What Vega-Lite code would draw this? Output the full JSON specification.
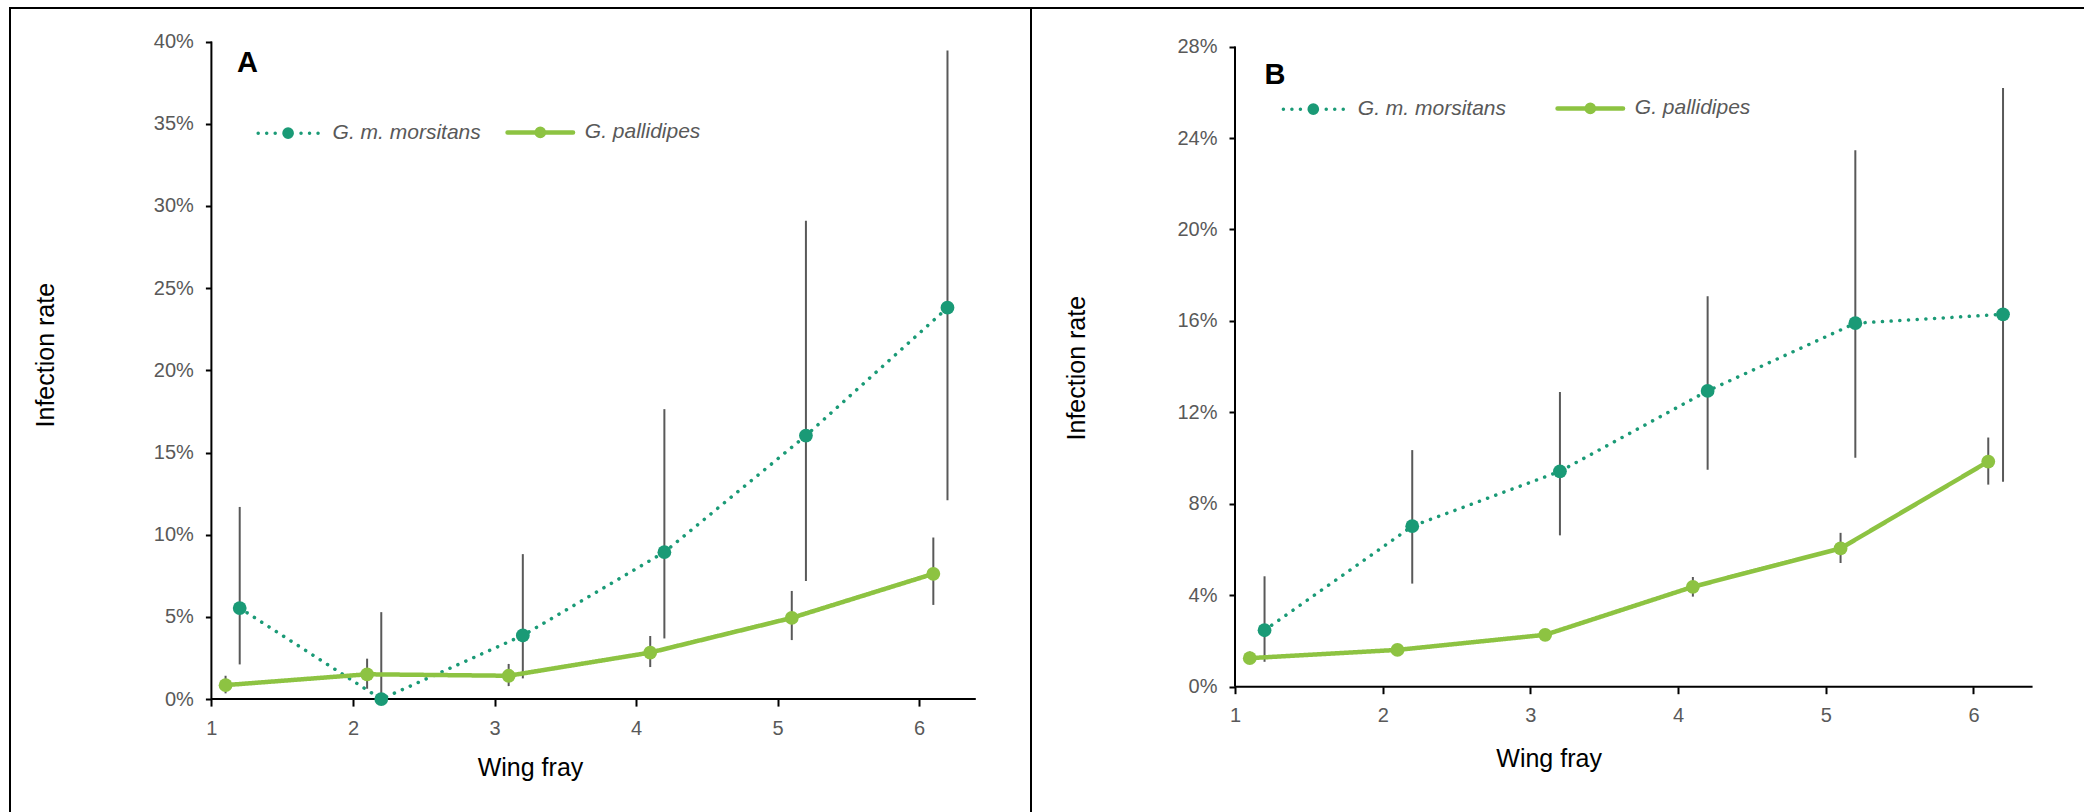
{
  "$schema": "https://vega.github.io/schema/vega-lite/v6.json",
  "padding": {"left": 9, "top": 7, "right": 0, "bottom": 0},
  "background": "white",
  "spacing": 0,
  "bounds": "flush",
  "config": {
    "view": {"stroke": "black", "strokeWidth": 2},
    "font": "Liberation Sans",
    "axis": {
      "domain": false, "grid": false, "tickColor": "black", "tickWidth": 2,
      "labelColor": "#595959", "labelFontSize": 20, "labelFont": "Liberation Sans",
      "titleFont": "Liberation Sans", "titleFontSize": 25, "titleFontWeight": "normal",
      "titleColor": "black", "labelOverlap": false, "labelFlush": false, "titleBaseline": "alphabetic"
    },
    "legend": {
      "title": null, "orient": "none", "direction": "horizontal", "padding": 0,
      "symbolType": "M-1,0L1,0M-0.2,0A0.2,0.2,0,1,0,0.2,0A0.2,0.2,0,1,0,-0.2,0Z",
      "symbolSize": 3969, "labelFont": "Liberation Sans", "labelFontSize": 21,
      "labelFontStyle": "italic", "labelColor": "#595959", "labelOffset": 34, "labelLimit": 400
    }
  },
  "datasets": {
    "rates": [
      {"panel": "A", "species": "G. m. morsitans", "wing_fray": 1.2, "rate": 0.0554, "lo": 0.0211, "hi": 0.1169},
      {"panel": "A", "species": "G. m. morsitans", "wing_fray": 2.2, "rate": 0.0, "lo": 0.0, "hi": 0.0529},
      {"panel": "A", "species": "G. m. morsitans", "wing_fray": 3.2, "rate": 0.0387, "lo": 0.0126, "hi": 0.0882},
      {"panel": "A", "species": "G. m. morsitans", "wing_fray": 4.2, "rate": 0.0894, "lo": 0.0369, "hi": 0.1764},
      {"panel": "A", "species": "G. m. morsitans", "wing_fray": 5.2, "rate": 0.1603, "lo": 0.0718, "hi": 0.291},
      {"panel": "A", "species": "G. m. morsitans", "wing_fray": 6.2, "rate": 0.2381, "lo": 0.1209, "hi": 0.3946},
      {"panel": "A", "species": "G. pallidipes", "wing_fray": 1.1, "rate": 0.0085, "lo": 0.0035, "hi": 0.0142},
      {"panel": "A", "species": "G. pallidipes", "wing_fray": 2.1, "rate": 0.0151, "lo": 0.0063, "hi": 0.0246},
      {"panel": "A", "species": "G. pallidipes", "wing_fray": 3.1, "rate": 0.0142, "lo": 0.0079, "hi": 0.0214},
      {"panel": "A", "species": "G. pallidipes", "wing_fray": 4.1, "rate": 0.0283, "lo": 0.0195, "hi": 0.0384},
      {"panel": "A", "species": "G. pallidipes", "wing_fray": 5.1, "rate": 0.0494, "lo": 0.0359, "hi": 0.0658},
      {"panel": "A", "species": "G. pallidipes", "wing_fray": 6.1, "rate": 0.0762, "lo": 0.0573, "hi": 0.0983},
      {"panel": "B", "species": "G. m. morsitans", "wing_fray": 1.2, "rate": 0.0247, "lo": 0.0109, "hi": 0.0483},
      {"panel": "B", "species": "G. m. morsitans", "wing_fray": 2.2, "rate": 0.0702, "lo": 0.0451, "hi": 0.1035},
      {"panel": "B", "species": "G. m. morsitans", "wing_fray": 3.2, "rate": 0.0942, "lo": 0.0662, "hi": 0.1289},
      {"panel": "B", "species": "G. m. morsitans", "wing_fray": 4.2, "rate": 0.1294, "lo": 0.0949, "hi": 0.1708},
      {"panel": "B", "species": "G. m. morsitans", "wing_fray": 5.2, "rate": 0.159, "lo": 0.1001, "hi": 0.2347},
      {"panel": "B", "species": "G. m. morsitans", "wing_fray": 6.2, "rate": 0.1629, "lo": 0.0897, "hi": 0.2619},
      {"panel": "B", "species": "G. pallidipes", "wing_fray": 1.1, "rate": 0.0125, "lo": 0.010, "hi": 0.0154},
      {"panel": "B", "species": "G. pallidipes", "wing_fray": 2.1, "rate": 0.0161, "lo": 0.0146, "hi": 0.0176},
      {"panel": "B", "species": "G. pallidipes", "wing_fray": 3.1, "rate": 0.0227, "lo": 0.021, "hi": 0.0244},
      {"panel": "B", "species": "G. pallidipes", "wing_fray": 4.1, "rate": 0.0437, "lo": 0.0394, "hi": 0.048},
      {"panel": "B", "species": "G. pallidipes", "wing_fray": 5.1, "rate": 0.0605, "lo": 0.0541, "hi": 0.0673},
      {"panel": "B", "species": "G. pallidipes", "wing_fray": 6.1, "rate": 0.0985, "lo": 0.0884, "hi": 0.109}
    ]
  },
  "resolve": {"legend": {"color": "independent"}},
  "hconcat": [
    {
      "width": 1021, "height": 806,
      "layer": [
        {
          "data": {"values": [{}]},
          "mark": {"type": "rule", "color": "black", "strokeWidth": 2},
          "encoding": {"x": {"datum": 1}, "x2": {"datum": 6.4}, "y": {"datum": 0}}
        },
        {
          "data": {"values": [{}]},
          "mark": {"type": "rule", "color": "black", "strokeWidth": 2},
          "encoding": {"x": {"datum": 1}, "y": {"datum": 0}, "y2": {"datum": 0.4}}
        },
        {
          "data": {"name": "rates"},
          "transform": [{"filter": "datum.panel === 'A'"}],
          "mark": {"type": "rule", "color": "#595959", "strokeWidth": 2},
          "encoding": {
            "x": {"field": "wing_fray", "type": "quantitative",
              "scale": {"domain": [-0.4228, 6.79], "nice": false, "zero": false},
              "axis": {"values": [1, 2, 3, 4, 5, 6], "format": "d", "offset": -114.9, "tickSize": 7, "labelPadding": 12,
                "title": "Wing fray", "titleX": 520, "titleY": 75.9}},
            "y": {"field": "lo", "type": "quantitative",
              "scale": {"domain": [-0.0699, 0.42044], "nice": false, "zero": false},
              "axis": {"values": [0, 0.05, 0.1, 0.15, 0.2, 0.25, 0.3, 0.35, 0.4], "format": ".0%", "offset": -201.4, "tickSize": 6, "labelPadding": 12,
                "title": "Infection rate", "titleX": -158.4, "titleY": 346.7}},
            "y2": {"field": "hi"}
          }
        },
        {
          "data": {"name": "rates"},
          "transform": [{"filter": "datum.panel === 'A'"}],
          "mark": {"type": "line", "strokeCap": "round", "strokeJoin": "round"},
          "encoding": {
            "x": {"field": "wing_fray", "type": "quantitative"},
            "y": {"field": "rate", "type": "quantitative"},
            "color": {"field": "species", "type": "nominal",
              "scale": {"domain": ["G. m. morsitans", "G. pallidipes"], "range": ["#1A9A76", "#8DC342"]},
              "legend": {"legendX": 267.6, "legendY": 113.5, "columnPadding": 16.2,
                "encode": {"symbols": {"update": {
                  "shape": {"signal": "datum.value === 'G. m. morsitans' ? 'M-0.95,0L-0.949,0M-0.68,0L-0.679,0M-0.41,0L-0.409,0M0.41,0L0.411,0M0.68,0L0.681,0M0.95,0L0.951,0M-0.13,0A0.13,0.13,0,1,0,0.13,0A0.13,0.13,0,1,0,-0.13,0Z' : 'M-1.04,0L1.04,0M-0.114,0A0.114,0.114,0,1,0,0.114,0A0.114,0.114,0,1,0,-0.114,0Z'"},
                  "fill": {"signal": "datum.value === 'G. m. morsitans' ? '#1A9A76' : '#8DC342'"},
                  "fillOpacity": {"value": 1},
                  "strokeCap": {"value": "round"},
                  "strokeDash": {"value": []},
                  "strokeWidth": {"signal": "datum.value === 'G. m. morsitans' ? 3.5 : 4.5"}
                }}}}},
            "strokeDash": {"field": "species", "type": "nominal",
              "scale": {"domain": ["G. m. morsitans", "G. pallidipes"], "range": [[0.1, 8.6], [1, 0]]}, "legend": null},
            "strokeWidth": {"field": "species", "type": "nominal",
              "scale": {"domain": ["G. m. morsitans", "G. pallidipes"], "range": [3.5, 4.5]}, "legend": null}
          }
        },
        {
          "data": {"name": "rates"},
          "transform": [{"filter": "datum.panel === 'A'"}],
          "mark": {"type": "point", "filled": true, "opacity": 1, "size": 190},
          "encoding": {
            "x": {"field": "wing_fray", "type": "quantitative"},
            "y": {"field": "rate", "type": "quantitative"},
            "color": {"field": "species", "type": "nominal"}
          }
        },
        {
          "data": {"values": [{"label": "A"}]},
          "mark": {"type": "text", "fontSize": 29, "fontWeight": "bold", "color": "black", "align": "left", "baseline": "alphabetic", "font": "Liberation Sans"},
          "encoding": {"x": {"datum": 1.181}, "y": {"datum": 0.3813}, "text": {"field": "label"}}
        }
      ]
    },
    {
      "width": 1054, "height": 806,
      "layer": [
        {
          "data": {"values": [{}]},
          "mark": {"type": "rule", "color": "black", "strokeWidth": 2},
          "encoding": {"x": {"datum": 1}, "x2": {"datum": 6.4}, "y": {"datum": 0}}
        },
        {
          "data": {"values": [{}]},
          "mark": {"type": "rule", "color": "black", "strokeWidth": 2},
          "encoding": {"x": {"datum": 1}, "y": {"datum": 0}, "y2": {"datum": 0.28}}
        },
        {
          "data": {"name": "rates"},
          "transform": [{"filter": "datum.panel === 'B'"}],
          "mark": {"type": "rule", "color": "#595959", "strokeWidth": 2},
          "encoding": {
            "x": {"field": "wing_fray", "type": "quantitative",
              "scale": {"domain": [-0.3812, 6.755], "nice": false, "zero": false},
              "axis": {"values": [1, 2, 3, 4, 5, 6], "format": "d", "offset": -127.3, "tickSize": 7, "labelPadding": 12,
                "title": "Wing fray", "titleX": 517.6, "titleY": 80}},
            "y": {"field": "lo", "type": "quantitative",
              "scale": {"domain": [-0.05568, 0.29688], "nice": false, "zero": false},
              "axis": {"values": [0, 0.04, 0.08, 0.12, 0.16, 0.2, 0.24, 0.28], "format": ".0%", "offset": -204, "tickSize": 6, "labelPadding": 12,
                "title": "Infection rate", "titleX": -151, "titleY": 359.7}},
            "y2": {"field": "hi"}
          }
        },
        {
          "data": {"name": "rates"},
          "transform": [{"filter": "datum.panel === 'B'"}],
          "mark": {"type": "line", "strokeCap": "round", "strokeJoin": "round"},
          "encoding": {
            "x": {"field": "wing_fray", "type": "quantitative"},
            "y": {"field": "rate", "type": "quantitative"},
            "color": {"field": "species", "type": "nominal",
              "legend": {"legendX": 271.8, "legendY": 89.5, "columnPadding": 41,
                "encode": {"symbols": {"update": {
                  "shape": {"signal": "datum.value === 'G. m. morsitans' ? 'M-0.95,0L-0.949,0M-0.68,0L-0.679,0M-0.41,0L-0.409,0M0.41,0L0.411,0M0.68,0L0.681,0M0.95,0L0.951,0M-0.13,0A0.13,0.13,0,1,0,0.13,0A0.13,0.13,0,1,0,-0.13,0Z' : 'M-1.04,0L1.04,0M-0.114,0A0.114,0.114,0,1,0,0.114,0A0.114,0.114,0,1,0,-0.114,0Z'"},
                  "fill": {"signal": "datum.value === 'G. m. morsitans' ? '#1A9A76' : '#8DC342'"},
                  "fillOpacity": {"value": 1},
                  "strokeCap": {"value": "round"},
                  "strokeDash": {"value": []},
                  "strokeWidth": {"signal": "datum.value === 'G. m. morsitans' ? 3.5 : 4.5"}
                }}}}},
            "strokeDash": {"field": "species", "type": "nominal", "legend": null},
            "strokeWidth": {"field": "species", "type": "nominal", "legend": null}
          }
        },
        {
          "data": {"name": "rates"},
          "transform": [{"filter": "datum.panel === 'B'"}],
          "mark": {"type": "point", "filled": true, "opacity": 1, "size": 190},
          "encoding": {
            "x": {"field": "wing_fray", "type": "quantitative"},
            "y": {"field": "rate", "type": "quantitative"},
            "color": {"field": "species", "type": "nominal"}
          }
        },
        {
          "data": {"values": [{"label": "B"}]},
          "mark": {"type": "text", "fontSize": 29, "fontWeight": "bold", "color": "black", "align": "left", "baseline": "alphabetic", "font": "Liberation Sans"},
          "encoding": {"x": {"datum": 1.2}, "y": {"datum": 0.2635}, "text": {"field": "label"}}
        }
      ]
    }
  ]
}
